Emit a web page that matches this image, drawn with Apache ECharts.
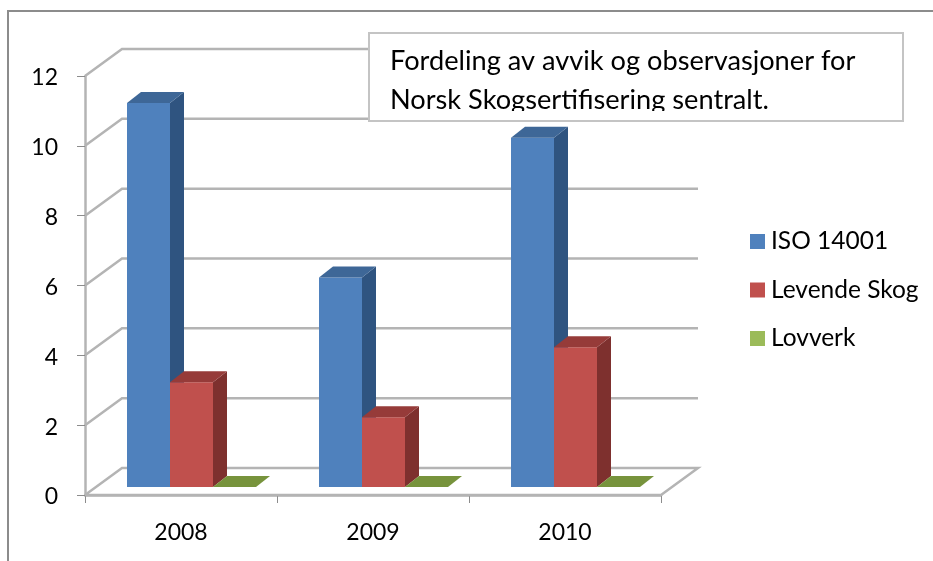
<!DOCTYPE html>
<html lang="no">
<head>
    <meta charset="utf-8" />
    <title>Fordeling av avvik</title>
    <script type="text/javascript" src="https://cdn.jsdelivr.net/npm/echarts@6/dist/echarts.min.js"></script>
    <style type="text/css">
        html, body { margin: 0; padding: 0; background: #fff; }
    </style>
</head>
<body>
    <div id="main" style="width:933px;height:561px;"></div>

    <script type="text/javascript">
        var categories = ['2008', '2009', '2010'];
        var yTicks = [0, 2, 4, 6, 8, 10, 12];
        var seriesNames = ['ISO 14001', 'Levende Skog', 'Lovverk'];
        var iso14001 = [11, 6, 10];
        var levendeSkog = [3, 2, 4];
        var lovverk = [0, 0, 0];
        var titleLines = ['Fordeling av avvik og observasjoner for', 'Norsk Skogsertifisering sentralt.'];

        var fontName = 'Lato';
        // depth of the fake 3d floor, and of the bars standing on it
        var wallDx = 37, wallDy = -27;
        var barShiftX = 10.5, barShiftY = -8;
        var barDx = 14, barDy = -11;
        var barWidth = 43;

        var colors = [
            { front: '#4f81bd', top: '#3e6797', side: '#2f5480' },
            { front: '#c0504d', top: '#963b39', side: '#7e302e' },
            { front: '#9bbb59', top: '#77933c', side: '#5f7530' }
        ];

        function wallItem(params, api) {
            var p = api.coord([0, api.value(1)]);
            var g = params.coordSys;
            var y = p[1];
            var pts = [[g.x, y], [g.x + wallDx, y + wallDy], [g.x + g.width + wallDx, y + wallDy]];
            if (api.value(1) === 0) {
                pts.push([g.x + g.width, y]);
                pts.push([g.x, y]);
            }
            return {
                type: 'polyline',
                shape: { points: pts },
                style: { fill: null, stroke: '#b4b4b4', lineWidth: 2.5 }
            };
        }

        function barRender(index) {
            return function (params, api) {
                var top = api.coord([api.value(0), api.value(1)]);
                var base = api.coord([api.value(0), 0]);
                var c = colors[index];
                var xl = top[0] + (index - 1.5) * barWidth + barShiftX;
                var xr = xl + barWidth;
                var yt = top[1] + barShiftY;
                var yb = base[1] + barShiftY;
                var children = [];
                if (yb - yt > 0) {
                    children.push({
                        type: 'polygon',
                        shape: { points: [[xr, yt], [xr + barDx, yt + barDy], [xr + barDx, yb + barDy], [xr, yb]] },
                        style: { fill: c.side }
                    });
                    children.push({
                        type: 'rect',
                        shape: { x: xl, y: yt, width: barWidth, height: yb - yt },
                        style: { fill: c.front }
                    });
                }
                children.push({
                    type: 'polygon',
                    shape: { points: [[xl, yt], [xl + barDx, yt + barDy], [xr + barDx, yt + barDy], [xr, yt]] },
                    style: { fill: c.top }
                });
                return { type: 'group', children: children };
            };
        }

        function barSeries(index, values) {
            return {
                name: seriesNames[index],
                type: 'custom',
                z: 3 + index,
                clip: false,
                itemStyle: { color: colors[index].front },
                renderItem: barRender(index),
                encode: { x: 0, y: 1 },
                data: values.map(function (v, i) { return [i, v]; })
            };
        }

        var myChart = echarts.init(document.getElementById('main'));

        var option = {
            animation: false,
            backgroundColor: '#fff',
            textStyle: { fontFamily: fontName },
            grid: { left: 85, right: 272, top: 76, bottom: 66 },
            legend: {
                data: seriesNames,
                orient: 'vertical',
                left: 750,
                top: 229,
                icon: 'rect',
                itemWidth: 15,
                itemHeight: 15,
                itemGap: 23.5,
                padding: 0,
                textStyle: { fontFamily: fontName, fontSize: 24.5, color: '#000', padding: [2, 0, 0, 1] }
            },
            xAxis: {
                type: 'category',
                data: categories,
                axisLine: { lineStyle: { color: '#b4b4b4', width: 2.5 } },
                axisTick: { show: true, length: 8, lineStyle: { color: '#8c8c8c', width: 1 } },
                axisLabel: { fontFamily: fontName, fontSize: 23, color: '#000', margin: 26 }
            },
            yAxis: {
                type: 'value',
                min: 0,
                max: 12,
                interval: 2,
                splitLine: { show: false },
                axisLine: { show: true, lineStyle: { color: '#b4b4b4', width: 2.5 } },
                axisTick: { show: true, length: 8, lineStyle: { color: '#8c8c8c', width: 1 } },
                axisLabel: {
                    margin: 27,
                    formatter: '{t|{value}}',
                    rich: { t: { fontFamily: fontName, fontSize: 23, color: '#000', padding: [4, 0, 0, 0] } }
                }
            },
            series: [
                {
                    type: 'custom',
                    z: 1,
                    clip: false,
                    silent: true,
                    renderItem: wallItem,
                    encode: { x: 0, y: 1 },
                    data: yTicks.map(function (t) { return [0, t]; })
                },
                barSeries(0, iso14001),
                barSeries(1, levendeSkog),
                barSeries(2, lovverk)
            ],
            graphic: [
                // outer frame, only top and left show in the picture
                {
                    type: 'polyline',
                    z: 0,
                    shape: { points: [[8, 561], [8, 11], [933, 11]] },
                    style: { fill: null, stroke: '#8c8c8c', lineWidth: 2 }
                },
                {
                    type: 'rect',
                    z: 20,
                    shape: { x: 369, y: 33, width: 534, height: 88 },
                    style: { fill: '#fff', stroke: '#c4c4c4', lineWidth: 2 }
                },
                {
                    type: 'text',
                    z: 21,
                    left: 390,
                    top: 48,
                    style: { text: titleLines[0], font: '27.2px ' + fontName, fill: '#000' }
                },
                {
                    type: 'text',
                    z: 21,
                    left: 390,
                    top: 87,
                    style: { text: titleLines[1], font: '27.2px ' + fontName, fill: '#000' }
                },
                // the reference cuts the second line off at the bottom
                {
                    type: 'rect',
                    z: 22,
                    shape: { x: 375, y: 111, width: 500, height: 8 },
                    style: { fill: '#fff' }
                }
            ]
        };
        myChart.setOption(option, true);
    </script>
</body>
</html>
